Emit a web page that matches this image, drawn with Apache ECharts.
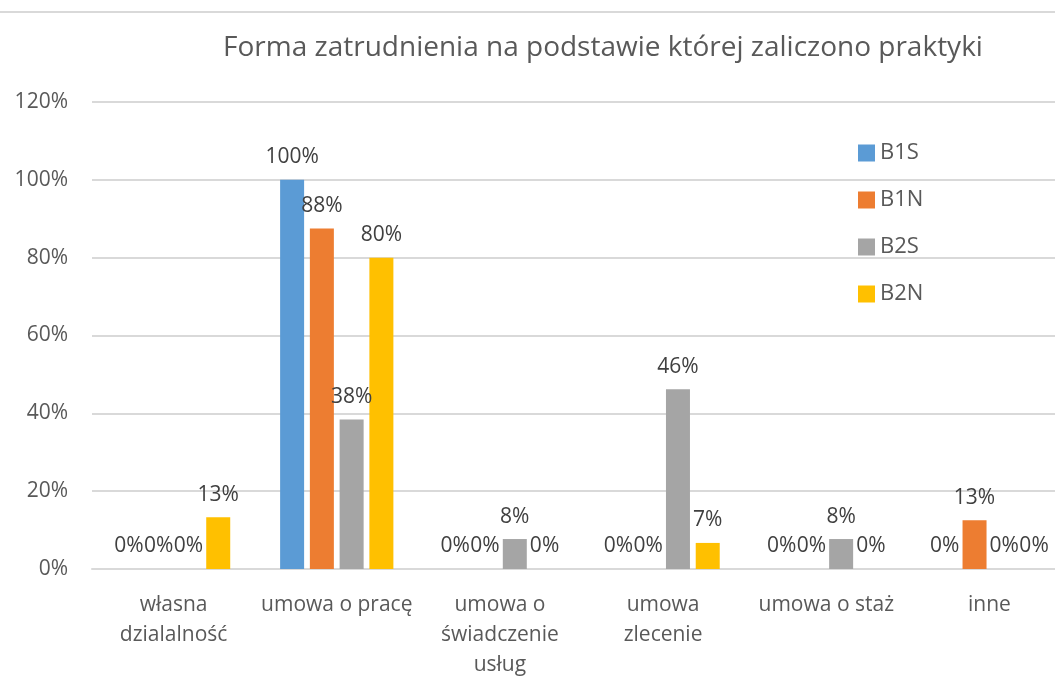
<!DOCTYPE html>
<html>
<head>
<meta charset="utf-8">
<script src="https://cdn.jsdelivr.net/npm/echarts@6/dist/echarts.min.js"></script>
<style>
  html, body { margin: 0; padding: 0; background: #fff; }
  #chart { width: 1055px; height: 677px; }
</style>
</head>
<body>
<div id="chart"></div>
<script>
  // dane (w procentach)
  const categories = ['własna\ndzialalność', 'umowa o pracę', 'umowa o\nświadczenie\nusług', 'umowa\nzlecenie', 'umowa o staż', 'inne']
  const seriesNames = ['B1S', 'B1N', 'B2S', 'B2N']
  const b1s = [0, 100, 0, 0, 0, 0]
  const b1n = [0, 87.5, 0, 0, 0, 12.5]
  const b2s = [0, 38.4, 7.7, 46.2, 7.7, 0]
  const b2n = [13.3, 80, 0, 6.7, 0, 0]
  const yTicks = [0, 20, 40, 60, 80, 100, 120]
  const colors = ['#5B9BD5', '#ED7D31', '#A5A5A5', '#FFC000']

  const font = 'Open Sans'
  let chart = echarts.init(document.getElementById('chart'))

  let mkSeries = (name, data, i) => ({
    name: name,
    type: 'bar',
    data: data,
    barWidth: 24,
    barGap: '24%',
    itemStyle: { color: colors[i] },
    label: {
      show: true,
      position: 'top',
      distance: 12,
      fontFamily: font,
      fontSize: 21,
      color: '#404040',
      formatter: p => Math.round(p.value) + '%'
    }
  })

  let option = {
    animation: false,
    title: {
      text: 'Forma zatrudnienia na podstawie której zaliczono praktyki',
      left: 598,
      textAlign: 'center',
      top: 29,
      textStyle: { fontFamily: font, fontWeight: 'normal', fontSize: 28, color: '#595959' }
    },
    graphic: [{
      type: 'line',
      shape: { x1: 0, y1: 12, x2: 1055, y2: 12 },
      style: { stroke: '#D9D9D9', lineWidth: 2 }
    }],
    legend: {
      orient: 'vertical',
      left: 853,
      top: 137,
      itemWidth: 17,
      itemHeight: 17,
      itemGap: 25,
      icon: 'rect',
      data: seriesNames,
      textStyle: { fontFamily: font, fontSize: 22, color: '#595959' }
    },
    grid: { left: 92, right: -16, top: 102, bottom: 108, outerBoundsMode: 'none' },
    xAxis: {
      type: 'category',
      data: categories,
      axisLine: { lineStyle: { color: '#D9D9D9', width: 2 } },
      axisTick: { show: false },
      axisLabel: { interval: 0, margin: 21, lineHeight: 30, fontFamily: font, fontSize: 21, color: '#595959' }
    },
    yAxis: {
      type: 'value',
      min: yTicks[0],
      max: yTicks[yTicks.length - 1],
      interval: 20,
      axisLine: { show: false },
      axisTick: { show: false },
      splitLine: { lineStyle: { color: '#D9D9D9', width: 2 } },
      axisLabel: { margin: 24, fontFamily: font, fontSize: 21, color: '#595959', formatter: '{value}%' }
    },
    series: [b1s, b1n, b2s, b2n].map((d, i) => mkSeries(seriesNames[i], d, i))
  }
  chart.setOption(option)
</script>
</body>
</html>
